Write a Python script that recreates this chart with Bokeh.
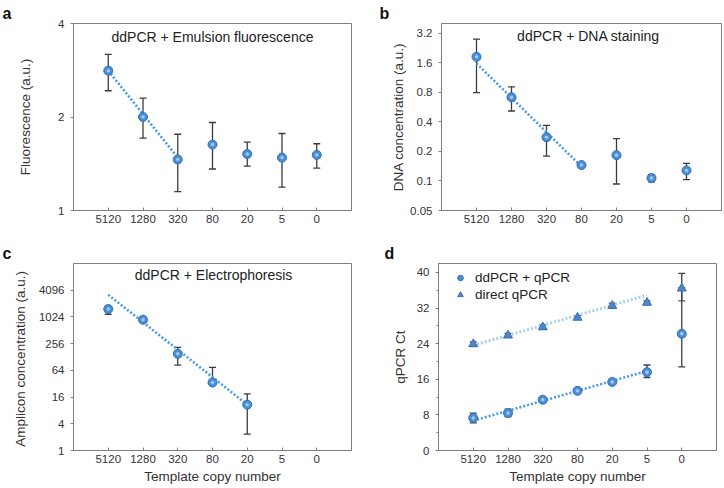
from bokeh.plotting import figure
from bokeh.models import (Range1d, FixedTicker, Whisker, TeeHead, ColumnDataSource,
                          Label, Legend, LegendItem)
from bokeh.layouts import column, row
from bokeh.embed import file_html
from bokeh.resources import INLINE

# ---------------- data ----------------
x_labels = ["5120", "1280", "320", "80", "20", "5", "0"]

a_mean = [2.82, 2.00, 1.46, 1.63, 1.52, 1.48, 1.51]
a_upper = [3.18, 2.30, 1.76, 1.92, 1.66, 1.77, 1.64]
a_lower = [2.43, 1.71, 1.15, 1.36, 1.39, 1.19, 1.37]
a_trend_idx = [0, 2]
a_trend = [2.82, 1.48]
a_yticks = [1, 2, 4]

b_mean = [1.83, 0.71, 0.278, 0.145, 0.183, 0.107, 0.128]
b_upper = [2.78, 0.907, 0.368, 0.150, 0.27, 0.116, 0.151]
b_lower = [0.79, 0.515, 0.179, 0.140, 0.093, 0.098, 0.103]
b_trend_idx = [0, 3]
b_trend = [1.57, 0.14]
b_yticks = [0.05, 0.1, 0.2, 0.4, 0.8, 1.6, 3.2]

c_mean = [1540, 886, 151, 34, 10.8]
c_upper = [1770, 950, 212, 75, 18.9]
c_lower = [1170, 830, 84, 30, 2.33]
c_trend_idx = [0, 4]
c_trend = [3240, 10.8]
c_yticks = [1, 4, 16, 64, 256, 1024, 4096]

d_circ_mean = [7.3, 8.4, 11.4, 13.4, 15.4, 17.6, 26.2]
d_circ_upper = [8.4, 9.3, 11.9, 13.8, 15.8, 19.2, 39.8]
d_circ_lower = [6.2, 7.6, 10.9, 13.0, 15.0, 16.4, 18.8]
d_tri_mean = [23.9, 25.85, 27.7, 29.85, 32.5, 33.2, 36.4]
d_tri_upper = [24.4, 26.3, 28.2, 30.3, 33.1, 33.6, 36.6]
d_tri_lower = [23.4, 25.4, 27.2, 29.4, 31.9, 32.8, 33.6]
d_circ_trend_idx = [0, 5]
d_circ_trend = [6.7, 17.85]
d_tri_trend_idx = [0, 5]
d_tri_trend = [23.6, 34.9]
d_yticks = [0, 8, 16, 24, 32, 40]
d_yminor = [4, 12, 20, 28, 36]

FONT = "Liberation Sans"
FILL = "#4a8fd4"
EDGE = "#2f6fb8"
HILITE = "#b3d5f2"
ERR = "#3c3c3c"
TREND = "#4a9be6"
TREND_LIGHT = "#a8cff0"
FRAME = "#7f7f7f"


def make_fig(fw, fh, ylog, yr, yticks, ylabel, xlabel, bl, br, bt, bb, ylab_standoff,
             letter, letter_offset):
    p = figure(frame_width=fw, frame_height=fh, output_backend="svg", toolbar_location=None,
               y_axis_type="log" if ylog else "linear",
               x_range=Range1d(-1, 7), y_range=Range1d(*yr),
               min_border_left=bl, min_border_right=br, min_border_top=bt, min_border_bottom=bb,
               title=letter)
    p.title.align = "left"
    p.title.offset = letter_offset
    p.title.standoff = 0
    p.title.vertical_align = "top"
    p.title.text_font = FONT
    p.title.text_font_size = "16px"
    p.title.text_line_height = 1.5
    p.title.text_font_style = "bold"
    p.title.text_color = "#111111"
    p.xgrid.visible = False
    p.ygrid.visible = False
    p.outline_line_color = FRAME
    p.outline_line_width = 1
    p.background_fill_color = "white"
    p.border_fill_color = "white"
    for ax in (p.xaxis[0], p.yaxis[0]):
        ax.axis_line_color = FRAME
        ax.major_tick_line_color = FRAME
        ax.minor_tick_line_color = FRAME
        ax.major_label_text_font = FONT
        ax.major_label_text_font_size = "11.5px"
        ax.major_label_text_color = "#333333"
        ax.axis_label_text_font = FONT
        ax.axis_label_text_font_size = "13.5px"
        ax.axis_label_text_font_style = "normal"
        ax.axis_label_text_color = "#333333"
    xa = p.xaxis[0]
    xa.ticker = FixedTicker(ticks=list(range(len(x_labels))))
    xa.major_label_overrides = {i: s for i, s in enumerate(x_labels)}
    xa.major_tick_in = 3
    xa.major_tick_out = 0
    xa.minor_tick_in = 0
    xa.minor_tick_out = 0
    xa.major_label_standoff = 4
    xa.axis_label = xlabel
    xa.axis_label_standoff = 3
    ya = p.yaxis[0]
    ya.ticker = FixedTicker(ticks=yticks)
    ya.major_label_overrides = {v: (str(v) if not float(v).is_integer() else str(int(v))) for v in yticks}
    ya.major_tick_in = 0
    ya.major_tick_out = 3
    ya.minor_tick_in = 0
    ya.minor_tick_out = 0
    ya.major_label_standoff = 6
    ya.axis_label = ylabel
    ya.axis_label_standoff = ylab_standoff
    return p


def add_series(p, means, upper, lower, marker="circle", size=9, fill=FILL, edge=EDGE, err=ERR, hilite=True):
    xs = list(range(len(means)))
    src = ColumnDataSource(dict(x=xs, y=means, up=upper, lo=lower))
    w = Whisker(source=src, base="x", upper="up", lower="lo", dimension="height",
                line_color=err, line_width=1.3, level="underlay",
                upper_head=TeeHead(size=7, line_color=err, line_width=1.3),
                lower_head=TeeHead(size=7, line_color=err, line_width=1.3))
    p.add_layout(w)
    r = p.scatter("x", "y", source=src, marker=marker, size=size, fill_color=fill,
                  line_color=edge, line_width=1)
    if hilite:
        p.scatter("x", "y", source=src, marker="circle", size=3.5, fill_color=HILITE,
                  line_color=None, fill_alpha=0.85)
    return r


def add_trend(p, idx, vals, color=TREND, width=2.6):
    p.line(idx, vals, line_color=color, line_width=width, line_dash="2 2")


def title_label(p, x, y, text):
    p.add_layout(Label(x=x, y=y, text=text, text_align="center", text_baseline="middle",
                       text_font=FONT, text_font_size="14px", text_color="#222222"))


# ---------- panel a ----------
FH1 = 187
pa = make_fig(278, FH1, True, (1, 4), a_yticks, "Fluorescence (a.u.)", None,
              73, 26, 23, 30, 22, "a", -71)
add_trend(pa, a_trend_idx, a_trend)
add_series(pa, a_mean, a_upper, a_lower)
title_label(pa, 3, 3.62, "ddPCR + Emulsion fluorescence")

# ---------- panel b ----------
pb = make_fig(280, FH1, True, (0.05, 4), b_yticks, "DNA concentration (a.u.)", None,
              64, 3, 23, 30, 1, "b", -62)
add_trend(pb, b_trend_idx, b_trend)
add_series(pb, b_mean, b_upper, b_lower)
title_label(pb, 3.2, 3.0, "ddPCR + DNA staining")

# ---------- panel c ----------
FH2 = 187
pc = make_fig(278, FH2, True, (1, 16384), c_yticks, "Amplicon concentration  (a.u.)",
              "Template copy number", 73, 26, 23, 35, 8, "c", -71)
add_trend(pc, c_trend_idx, c_trend)
add_series(pc, c_mean, c_upper, c_lower)
title_label(pc, 3.03, 9100, "ddPCR + Electrophoresis")

# ---------- panel d ----------
pd_ = make_fig(278, FH2, False, (0, 42), d_yticks, "qPCR Ct", "Template copy number",
               61, 8, 23, 35, 6, "d", -54)
pd_.yaxis[0].ticker = FixedTicker(ticks=d_yticks, minor_ticks=d_yminor)
pd_.yaxis[0].minor_tick_out = 2
add_trend(pd_, d_tri_trend_idx, d_tri_trend, color=TREND_LIGHT, width=3)
add_trend(pd_, d_circ_trend_idx, d_circ_trend)
r_tri = add_series(pd_, d_tri_mean, d_tri_upper, d_tri_lower, marker="triangle", size=9,
                   fill="#4f86c9", edge="#3d6fae", err="#555555", hilite=False)
r_circ = add_series(pd_, d_circ_mean, d_circ_upper, d_circ_lower, size=9)
leg = Legend(items=[LegendItem(label="ddPCR + qPCR", renderers=[r_circ]),
                    LegendItem(label="direct qPCR", renderers=[r_tri])],
             location=(15, FH2 - 40), margin=0, padding=2, spacing=0,
             glyph_width=14, glyph_height=17, label_standoff=8,
             label_text_font=FONT, label_text_font_size="13.5px", label_text_color="#222222",
             background_fill_alpha=0, border_line_color=None)
pd_.add_layout(leg)

layout = column(row(pa, pb), row(pc, pd_))
open("out.html", "w").write(file_html(layout, INLINE))
